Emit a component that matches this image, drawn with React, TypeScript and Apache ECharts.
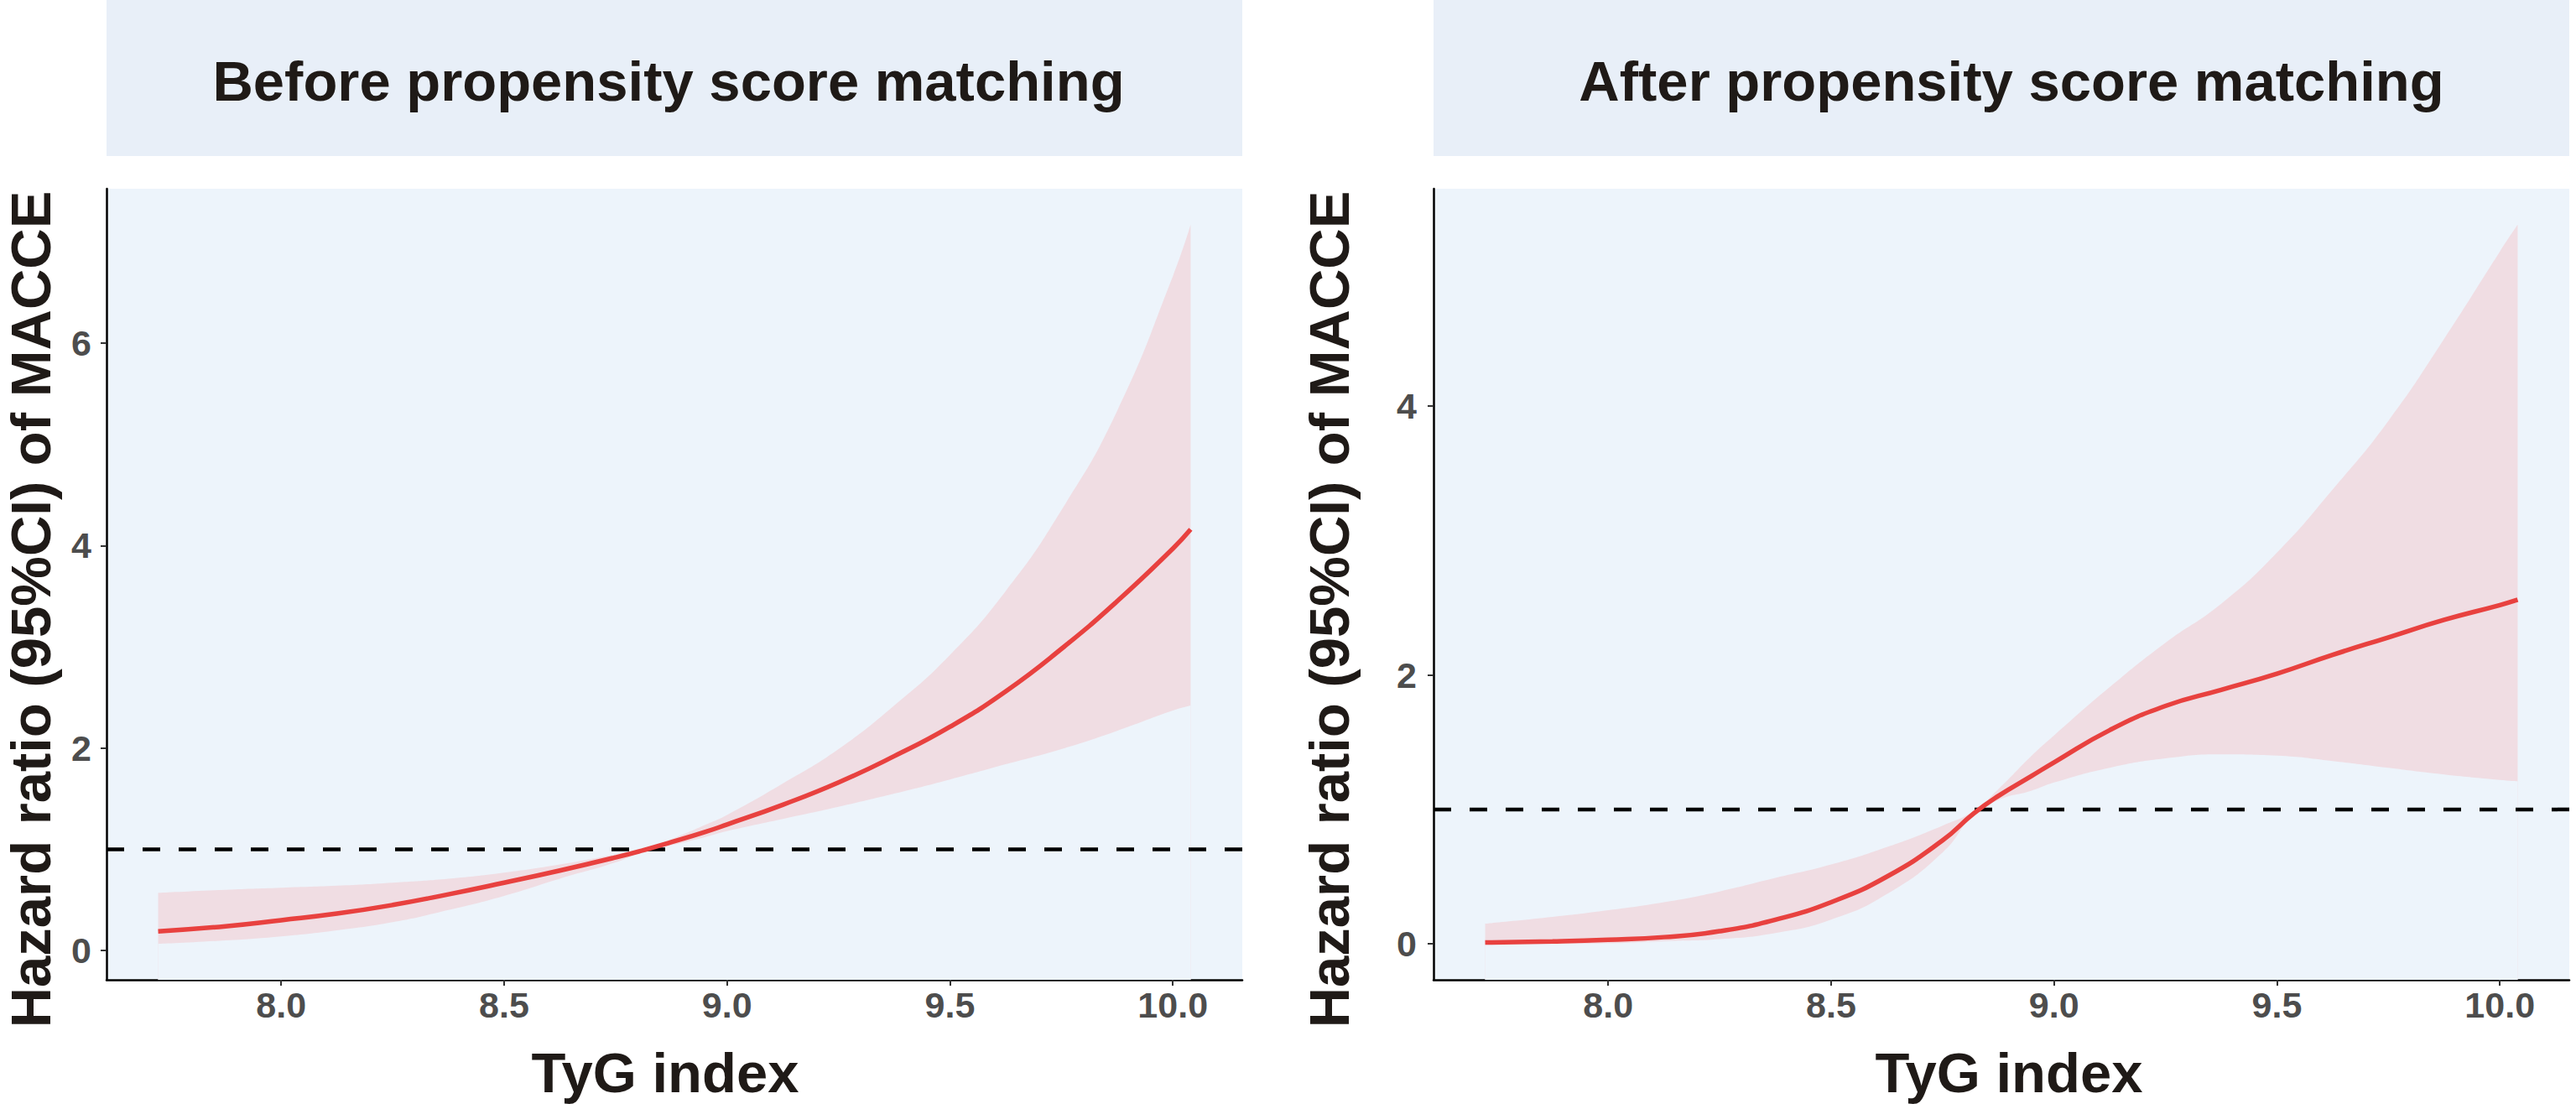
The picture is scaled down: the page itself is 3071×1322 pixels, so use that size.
import React, { useEffect, useRef } from "react";
import * as echarts from "echarts";

// ---------- data ----------
const tyg = [7.724, 7.875, 8.0, 8.125, 8.25, 8.375, 8.5, 8.625, 8.75, 8.82, 8.875, 8.95, 9.0, 9.125, 9.25, 9.375, 9.5, 9.625, 9.75, 9.875, 10.0, 10.04];

const hrBefore = [0.19, 0.24, 0.30, 0.365, 0.45, 0.555, 0.67, 0.79, 0.92, 1.0, 1.07, 1.17, 1.245, 1.44, 1.66, 1.92, 2.21, 2.56, 2.98, 3.45, 3.97, 4.16];
const lowerBefore = [0.066, 0.10, 0.14, 0.20, 0.28, 0.40, 0.54, 0.71, 0.87, 0.99, 1.04, 1.12, 1.18, 1.30, 1.42, 1.55, 1.69, 1.84, 1.99, 2.17, 2.37, 2.42];
const upperBefore = [0.57, 0.60, 0.62, 0.64, 0.67, 0.71, 0.77, 0.85, 0.95, 1.01, 1.10, 1.24, 1.34, 1.65, 1.99, 2.42, 2.92, 3.55, 4.35, 5.33, 6.66, 7.17];

const hrAfter = [0.01, 0.018, 0.03, 0.05, 0.094, 0.18, 0.31, 0.50, 0.77, 0.97, 1.10, 1.25, 1.35, 1.59, 1.77, 1.89, 2.01, 2.15, 2.28, 2.41, 2.52, 2.56];
const lowerAfter = [0.0, 0.0, 0.004, 0.02, 0.035, 0.08, 0.18, 0.37, 0.68, 0.96, 1.07, 1.14, 1.20, 1.31, 1.38, 1.41, 1.40, 1.36, 1.31, 1.26, 1.22, 1.21];
const upperAfter = [0.15, 0.20, 0.25, 0.31, 0.39, 0.49, 0.59, 0.72, 0.88, 0.99, 1.15, 1.40, 1.55, 1.91, 2.24, 2.53, 2.91, 3.38, 3.89, 4.50, 5.15, 5.35];

const xTicks = [8.0, 8.5, 9.0, 9.5, 10.0];
const yTicksBefore = [0, 2, 4, 6];
const yTicksAfter = [0, 2, 4];
const panelTitles = ["Before propensity score matching", "After propensity score matching"];
const xTitle = "TyG index";
const yTitle = "Hazard ratio (95%CI) of MACCE";
const refHR = 1;

// ---------- styles / layout ----------
const FONT = "'Liberation Sans', Arial, Helvetica, sans-serif";
const TITLE_COLOR = "#1F1A17";
const TICK_COLOR = "#4D4D4D";
const PANEL_BG = "#EDF4FB";
const STRIP_BG = "#E8EFF8";
const BAND = "#F0DDE3";
const LINE = "#E8413F";
const SMOOTH = 0.5;

const GRID_TOP = 225;
const GRID_H = 943;
const GRID_W = 1354;
const GRID_LEFTS = [127, 1709];
const STRIP_H = 186;
const STRIP_TEXT_X = [797, 2398];
const Y_NAME_GAP = [57, 91];
const Y_LABEL_MARGIN = [18, 20];
const X_NAME_PADDING = [
  [0, 22, 0, 0],
  [0, 0, 0, 18],
];

const expand = (lo: number, hi: number, f = 0.05) => {
  const r = hi - lo;
  return [lo - r * f, hi + r * f];
};

const panels = [
  { hr: hrBefore, lower: lowerBefore, upper: upperBefore, yTicks: yTicksBefore },
  { hr: hrAfter, lower: lowerAfter, upper: upperAfter, yTicks: yTicksAfter },
];

export default function App() {
  const ref = useRef<HTMLDivElement>(null);

  useEffect(() => {
    if (!ref.current) return;
    const chart = echarts.init(ref.current, undefined, { renderer: "svg" });

    const [xMin, xMax] = expand(Math.min(...tyg), Math.max(...tyg));

    const grids: any[] = [];
    const xAxes: any[] = [];
    const yAxes: any[] = [];
    const series: any[] = [];
    const graphics: any[] = [];

    panels.forEach((p, i) => {
      const [yMin, yMax] = expand(Math.min(...p.lower), Math.max(...p.upper));
      grids.push({
        left: GRID_LEFTS[i],
        top: GRID_TOP,
        width: GRID_W,
        height: GRID_H,
        show: true,
        backgroundColor: PANEL_BG,
        borderWidth: 0,
        containLabel: false,
      });
      xAxes.push({
        type: "value",
        gridIndex: i,
        min: xMin,
        max: xMax,
        name: xTitle,
        nameLocation: "middle",
        nameGap: 77,
        nameTextStyle: {
          fontSize: 67,
          fontWeight: "bold",
          color: TITLE_COLOR,
          fontFamily: FONT,
          padding: X_NAME_PADDING[i],
        },
        axisLine: { show: true, onZero: false, lineStyle: { color: "#000", width: 2.5 } },
        axisTick: { show: true, length: 7, customValues: xTicks, lineStyle: { color: "#333", width: 2 } },
        axisLabel: {
          customValues: xTicks,
          margin: 8,
          fontSize: 43,
          fontWeight: "bold",
          color: TICK_COLOR,
          fontFamily: FONT,
          formatter: (v: number) => v.toFixed(1),
        },
        splitLine: { show: false },
      });
      yAxes.push({
        type: "value",
        gridIndex: i,
        min: yMin,
        max: yMax,
        name: yTitle,
        nameLocation: "middle",
        nameRotate: 90,
        nameGap: Y_NAME_GAP[i],
        nameTextStyle: {
          fontSize: 67,
          fontWeight: "bold",
          color: TITLE_COLOR,
          fontFamily: FONT,
          padding: [0, 60, 0, 0],
        },
        axisLine: { show: true, onZero: false, lineStyle: { color: "#000", width: 2.5 } },
        axisTick: { show: true, length: 7, customValues: p.yTicks, lineStyle: { color: "#333", width: 2 } },
        axisLabel: {
          customValues: p.yTicks,
          margin: Y_LABEL_MARGIN[i],
          fontSize: 43,
          fontWeight: "bold",
          color: TICK_COLOR,
          fontFamily: FONT,
          formatter: (v: number) => String(v),
        },
        splitLine: { show: false },
      });

      // CI band: pink area under the upper bound, then panel-coloured area under the lower bound
      series.push({
        type: "line",
        xAxisIndex: i,
        yAxisIndex: i,
        data: tyg.map((t, k) => [t, p.upper[k]]),
        smooth: SMOOTH,
        symbol: "none",
        showSymbol: false,
        lineStyle: { width: 0, opacity: 0 },
        areaStyle: { color: BAND, opacity: 1, origin: "start" },
        silent: true,
        z: 1,
      });
      series.push({
        type: "line",
        xAxisIndex: i,
        yAxisIndex: i,
        data: tyg.map((t, k) => [t, p.lower[k]]),
        smooth: SMOOTH,
        symbol: "none",
        showSymbol: false,
        lineStyle: { width: 0, opacity: 0 },
        areaStyle: { color: PANEL_BG, opacity: 1, origin: "start" },
        silent: true,
        z: 1,
      });
      series.push({
        type: "line",
        xAxisIndex: i,
        yAxisIndex: i,
        data: [
          [xMin, refHR],
          [xMax, refHR],
        ],
        symbol: "none",
        showSymbol: false,
        lineStyle: { color: "#000", width: 4.5, type: [21, 22], cap: "butt" },
        silent: true,
        z: 2,
      });
      series.push({
        type: "line",
        xAxisIndex: i,
        yAxisIndex: i,
        data: tyg.map((t, k) => [t, p.hr[k]]),
        smooth: SMOOTH,
        symbol: "none",
        showSymbol: false,
        lineStyle: { color: LINE, width: 5.5 },
        silent: true,
        z: 3,
      });

      graphics.push({
        type: "rect",
        shape: { x: GRID_LEFTS[i], y: 0, width: GRID_W, height: STRIP_H },
        style: { fill: STRIP_BG },
        z: 0,
      });
      graphics.push({
        type: "text",
        x: STRIP_TEXT_X[i],
        y: 96,
        style: {
          text: panelTitles[i],
          fontSize: 67,
          fontWeight: "bold",
          fontFamily: FONT,
          fill: TITLE_COLOR,
          align: "center",
          verticalAlign: "middle",
        },
        z: 1,
      });
    });

    chart.setOption({
      animation: false,
      backgroundColor: "#FFFFFF",
      grid: grids,
      xAxis: xAxes,
      yAxis: yAxes,
      series,
      graphic: graphics,
    });

    return () => chart.dispose();
  }, []);

  return (
    <div
      ref={ref}
      style={{ position: "absolute", left: 0, top: 0, width: 3071, height: 1322 }}
    />
  );
}
